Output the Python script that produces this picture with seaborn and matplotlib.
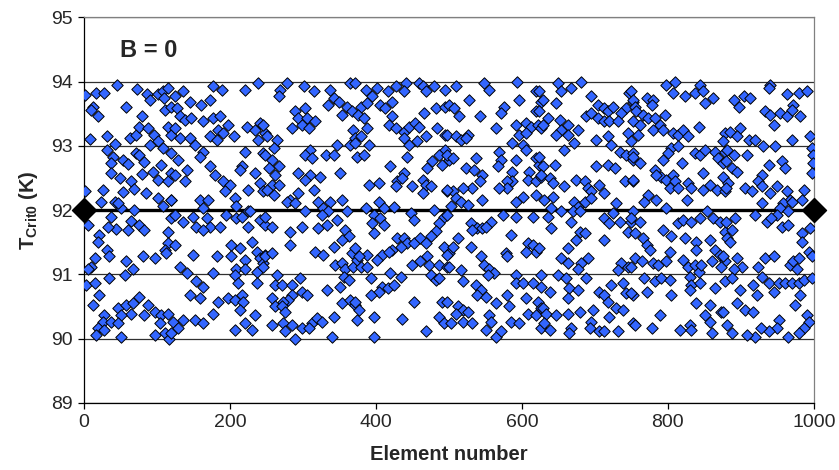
import numpy as np
import pandas as pd
import matplotlib
matplotlib.use("Agg")
import matplotlib.pyplot as plt
import seaborn as sns

# (element number, T_crit0), in strips along x
seg_0_125 = [
    (1, 93.79), (17, 93.82), (28, 93.82), (46, 93.94), (73, 93.88), (87, 93.80), (90, 93.72),
    (101, 93.80), (108, 93.85), (115, 93.90), (110, 93.75), (12, 93.61), (19, 93.47), (10, 93.56),
    (58, 93.60), (79, 93.46), (111, 93.56), (120, 93.61), (9, 93.11), (32, 93.15), (42, 93.03),
    (63, 93.13), (72, 93.17), (75, 93.30), (88, 93.28), (96, 93.17), (90, 93.02), (101, 93.07),
    (108, 92.97), (115, 93.30), (120, 93.17), (31, 92.94), (40, 92.83), (37, 92.73), (53, 92.78),
    (60, 92.71), (72, 92.89), (76, 92.86), (83, 92.75), (106, 92.70), (120, 92.89), (37, 92.57),
    (49, 92.50), (64, 92.45), (79, 92.56), (95, 92.60), (101, 92.47), (115, 92.45), (120, 92.57),
    (1, 92.29), (26, 92.31), (53, 92.28), (69, 92.33), (85, 92.26), (101, 92.19), (120, 92.16),
    (108, 92.06), (24, 92.13), (42, 92.13), (51, 92.03), (69, 92.00), (47, 92.11), (6, 91.77),
    (37, 91.90), (65, 91.83), (76, 91.77), (83, 91.69), (60, 91.69), (44, 91.71), (33, 91.74),
    (115, 91.66), (120, 91.87), (21, 91.61), (19, 91.51), (115, 91.48), (111, 91.38), (31, 91.38),
    (35, 91.28), (15, 91.25), (10, 91.12), (6, 91.09), (58, 91.20), (67, 91.09), (56, 90.99),
    (81, 91.28), (97, 91.25), (113, 91.33), (3, 90.83), (15, 90.86), (35, 90.94), (21, 90.68),
    (12, 90.52), (47, 90.47), (58, 90.52), (67, 90.55), (76, 90.64), (88, 90.52), (97, 90.42),
    (106, 90.37), (115, 90.39), (65, 90.39), (51, 90.37), (83, 90.37), (28, 90.37), (26, 90.26),
    (37, 90.26), (47, 90.24), (104, 90.24), (19, 90.16), (17, 90.06), (28, 90.13), (51, 90.03),
    (97, 90.06), (111, 90.08), (117, 90.00),
]
seg_125_250 = [
    (125, 93.77), (136, 93.85), (145, 93.69), (127, 93.59), (161, 93.64), (173, 93.72), (177, 93.93),
    (189, 93.87), (221, 93.87), (239, 93.98), (132, 93.46), (138, 93.41), (147, 93.43), (163, 93.38),
    (177, 93.43), (186, 93.46), (198, 93.33), (184, 93.25), (191, 93.20), (205, 93.15), (173, 93.15),
    (182, 93.09), (223, 93.30), (234, 93.25), (241, 93.35), (248, 93.20), (239, 93.09), (125, 93.28),
    (132, 93.12), (145, 93.12), (152, 93.02), (163, 92.91), (159, 92.83), (221, 92.91), (246, 92.89),
    (129, 92.78), (141, 92.63), (125, 92.55), (138, 92.45), (173, 92.68), (179, 92.55), (191, 92.45),
    (200, 92.39), (193, 92.29), (216, 92.68), (214, 92.63), (234, 92.58), (225, 92.31), (241, 92.42),
    (246, 92.29), (120, 92.16), (159, 92.16), (170, 92.16), (163, 92.03), (207, 92.19), (209, 92.06),
    (225, 91.98), (125, 91.93), (136, 91.82), (150, 91.90), (154, 91.74), (168, 91.87), (173, 91.74),
    (163, 91.69), (186, 91.74), (195, 91.93), (209, 91.87), (216, 91.90), (227, 91.98), (225, 91.74),
    (241, 91.85), (248, 91.77), (125, 91.46), (150, 91.30), (182, 91.28), (202, 91.46), (202, 91.28),
    (214, 91.41), (221, 91.22), (230, 91.51), (237, 91.35), (241, 91.25), (248, 91.30), (132, 91.12),
    (141, 91.02), (177, 91.02), (209, 91.09), (221, 91.09), (237, 91.04), (246, 91.17), (154, 90.89),
    (163, 90.81), (207, 90.99), (211, 90.86), (237, 90.86), (145, 90.68), (159, 90.63), (184, 90.57),
    (198, 90.63), (207, 90.60), (216, 90.68), (218, 90.57), (214, 90.45), (177, 90.39), (234, 90.37),
    (122, 90.26), (136, 90.29), (152, 90.29), (163, 90.24), (129, 90.16), (207, 90.13), (221, 90.24),
    (230, 90.13), (120, 90.08),
]
seg_250_375 = [
    (278, 93.98), (269, 93.87), (267, 93.77), (301, 93.93), (315, 93.85), (337, 93.87), (342, 93.74),
    (365, 93.98), (335, 93.64), (349, 93.69), (360, 93.61), (353, 93.48), (367, 93.54), (289, 93.54),
    (303, 93.59), (294, 93.43), (305, 93.43), (317, 93.38), (299, 93.33), (308, 93.28), (285, 93.28),
    (246, 93.33), (251, 93.15), (264, 93.09), (260, 92.96), (369, 93.25), (372, 93.12), (310, 92.94),
    (303, 92.86), (312, 92.81), (331, 92.86), (342, 92.86), (347, 93.02), (365, 93.02), (374, 92.83),
    (248, 92.86), (258, 92.78), (253, 92.65), (267, 92.68), (262, 92.55), (258, 92.39), (267, 92.39),
    (251, 92.31), (260, 92.24), (294, 92.57), (310, 92.55), (324, 92.52), (303, 92.47), (351, 92.57),
    (294, 92.26), (315, 92.31), (283, 92.16), (278, 92.13), (289, 92.11), (303, 91.98), (321, 92.13),
    (328, 92.03), (337, 92.13), (353, 92.16), (360, 91.98), (335, 91.98), (326, 91.93), (248, 91.90),
    (258, 91.74), (283, 91.66), (299, 91.74), (321, 91.72), (333, 91.77), (347, 91.85), (358, 91.69),
    (363, 91.59), (353, 91.54), (283, 91.46), (317, 91.35), (328, 91.30), (342, 91.43), (367, 91.33),
    (248, 91.28), (258, 91.33), (246, 91.12), (344, 91.15), (353, 91.17), (358, 91.09), (369, 91.12),
    (374, 91.22), (264, 90.99), (262, 90.83), (271, 90.83), (285, 90.83), (296, 90.94), (299, 90.73),
    (285, 90.68), (280, 90.60), (273, 90.57), (258, 90.63), (262, 90.50), (305, 90.68), (333, 90.76),
    (356, 90.96), (363, 90.91), (351, 90.81), (353, 90.55), (365, 90.60), (372, 90.52), (271, 90.50),
    (276, 90.42), (258, 90.21), (273, 90.24), (276, 90.11), (285, 90.21), (299, 90.16), (289, 90.00),
    (312, 90.24), (319, 90.32), (326, 90.26), (342, 90.34), (308, 90.16), (340, 90.03), (374, 90.29),
]
seg_375_500 = [
    (386, 93.87), (402, 93.90), (395, 93.77), (416, 93.85), (427, 93.93), (441, 93.98), (438, 93.85),
    (459, 93.98), (464, 93.93), (468, 93.85), (480, 93.93), (495, 93.87), (372, 93.98), (379, 93.61),
    (388, 93.67), (406, 93.64), (413, 93.59), (422, 93.69), (375, 93.48), (384, 93.43), (422, 93.46),
    (418, 93.33), (427, 93.28), (438, 93.22), (445, 93.30), (454, 93.35), (459, 93.30), (466, 93.51),
    (482, 93.59), (495, 93.61), (484, 93.28), (495, 93.17), (388, 93.28), (379, 93.15), (372, 93.04),
    (390, 93.02), (384, 92.86), (438, 93.12), (445, 93.02), (457, 93.07), (468, 93.15), (443, 92.83),
    (495, 92.94), (486, 92.86), (477, 92.76), (491, 92.70), (470, 92.65), (500, 92.78), (420, 92.68),
    (438, 92.57), (429, 92.45), (427, 92.37), (436, 92.50), (390, 92.39), (404, 92.42), (450, 92.37),
    (464, 92.47), (468, 92.39), (475, 92.37), (464, 92.26), (498, 92.29), (386, 92.03), (404, 92.13),
    (411, 92.03), (425, 92.05), (397, 91.93), (406, 91.87), (395, 91.80), (411, 91.77), (397, 91.64),
    (448, 91.95), (452, 91.85), (480, 92.00), (493, 91.90), (486, 91.80), (482, 91.67), (475, 91.59),
    (429, 91.56), (438, 91.56), (443, 91.48), (434, 91.43), (452, 91.48), (461, 91.56), (468, 91.48),
    (422, 91.38), (409, 91.30), (418, 91.35), (402, 91.22), (388, 91.30), (377, 91.28), (372, 91.41),
    (379, 91.12), (388, 91.12), (493, 91.43), (500, 91.33), (450, 91.15), (470, 91.28), (461, 91.20),
    (473, 91.15), (486, 91.15), (498, 91.12), (420, 91.02), (434, 90.96), (393, 90.94), (409, 90.81),
    (416, 90.78), (425, 90.83), (404, 90.73), (393, 90.68), (475, 90.99), (482, 90.91), (486, 90.94),
    (372, 90.57), (377, 90.45), (452, 90.57), (491, 90.57), (397, 90.34), (436, 90.31), (486, 90.34),
    (493, 90.24), (397, 90.03), (468, 90.11),
]
seg_500_625 = [
    (510, 93.93), (548, 93.98), (555, 93.87), (594, 94.00), (619, 93.85), (528, 93.72), (500, 93.64),
    (507, 93.59), (514, 93.46), (542, 93.46), (576, 93.61), (571, 93.51), (596, 93.72), (619, 93.54),
    (626, 93.69), (564, 93.28), (498, 93.17), (510, 93.15), (516, 93.09), (526, 93.17), (523, 93.12),
    (592, 93.33), (606, 93.35), (612, 93.30), (596, 93.17), (606, 93.20), (622, 93.33), (587, 93.04),
    (601, 93.02), (606, 92.94), (498, 92.86), (505, 92.81), (537, 92.81), (569, 92.91), (571, 92.78),
    (592, 92.78), (619, 92.81), (624, 92.70), (610, 92.60), (608, 92.47), (587, 92.60), (587, 92.45),
    (619, 92.45), (626, 92.52), (523, 92.65), (535, 92.63), (546, 92.55), (542, 92.45), (532, 92.34),
    (519, 92.34), (505, 92.29), (498, 92.31), (567, 92.68), (580, 92.45), (580, 92.34), (569, 92.34),
    (601, 92.21), (592, 92.13), (619, 92.24), (510, 92.19), (516, 92.13), (526, 92.08), (503, 92.06),
    (498, 91.93), (546, 92.16), (574, 91.93), (592, 91.90), (615, 91.90), (530, 91.80), (539, 91.72),
    (532, 91.69), (546, 91.72), (558, 91.82), (551, 91.74), (585, 91.61), (512, 91.56), (505, 91.43),
    (530, 91.43), (498, 91.30), (500, 91.12), (608, 91.48), (615, 91.46), (619, 91.35), (606, 91.35),
    (578, 91.33), (580, 91.28), (544, 91.28), (548, 91.15), (555, 91.09), (562, 91.02), (553, 90.99),
    (516, 91.07), (519, 90.89), (592, 90.99), (592, 90.86), (601, 90.86), (615, 90.86), (626, 90.99),
    (537, 90.83), (544, 90.76), (539, 90.68), (551, 90.65), (580, 90.68), (564, 90.55), (583, 90.50),
    (606, 90.63), (622, 90.57), (498, 90.57), (512, 90.50), (519, 90.45), (510, 90.39), (526, 90.42),
    (555, 90.37), (558, 90.26), (608, 90.39), (626, 90.47), (619, 90.37), (519, 90.26), (532, 90.24),
    (585, 90.26), (596, 90.24), (551, 90.13), (564, 90.03), (571, 90.11), (503, 90.24), (626, 90.16),
]
seg_625_750 = [
    (649, 93.98), (681, 94.00), (668, 93.90), (654, 93.85), (647, 93.67), (624, 93.85), (629, 93.72),
    (695, 93.77), (704, 93.64), (713, 93.59), (718, 93.54), (725, 93.61), (743, 93.59), (747, 93.82),
    (752, 93.69), (736, 93.51), (624, 93.54), (626, 93.28), (636, 93.43), (629, 93.33), (652, 93.41),
    (663, 93.33), (654, 93.25), (663, 93.17), (677, 93.25), (688, 93.46), (695, 93.51), (704, 93.43),
    (713, 93.38), (720, 93.38), (732, 93.38), (752, 93.38), (745, 93.20), (647, 93.17), (658, 92.94),
    (672, 93.04), (702, 93.09), (718, 93.15), (722, 93.02), (734, 92.91), (743, 92.86), (752, 92.78),
    (752, 92.89), (624, 92.83), (629, 92.68), (645, 92.70), (626, 92.55), (638, 92.50), (642, 92.42),
    (658, 92.37), (674, 92.47), (686, 92.45), (690, 92.34), (702, 92.68), (706, 92.39), (695, 92.29),
    (713, 92.26), (718, 92.70), (727, 92.65), (741, 92.45), (752, 92.45), (631, 92.16), (642, 92.21),
    (640, 92.03), (654, 91.98), (672, 92.13), (677, 92.05), (686, 92.13), (670, 91.98), (679, 91.98),
    (695, 92.19), (729, 92.11), (725, 91.95), (713, 91.87), (720, 91.80), (734, 91.82), (750, 91.82),
    (752, 91.98), (745, 91.66), (636, 91.90), (640, 91.72), (668, 91.82), (679, 91.66), (686, 91.64),
    (674, 91.53), (663, 91.41), (713, 91.53), (624, 91.41), (654, 91.25), (663, 91.17), (690, 91.25),
    (681, 91.17), (677, 91.09), (688, 90.94), (649, 90.99), (661, 90.94), (736, 91.17), (745, 91.12),
    (732, 91.07), (626, 90.81), (638, 90.73), (665, 90.78), (663, 90.63), (677, 90.76), (706, 90.73),
    (713, 90.68), (718, 90.57), (722, 90.83), (738, 90.86), (743, 90.71), (752, 90.68), (629, 90.47),
    (633, 90.39), (647, 90.37), (663, 90.39), (679, 90.42), (697, 90.45), (729, 90.47), (720, 90.34),
    (738, 90.45), (631, 90.24), (638, 90.13), (668, 90.16), (665, 90.08), (695, 90.26), (693, 90.16),
    (706, 90.11), (713, 90.11), (732, 90.11), (752, 90.24),
]
seg_750_875 = [
    (798, 93.95), (810, 94.00), (807, 93.82), (823, 93.77), (837, 93.82), (844, 93.95), (848, 93.85),
    (851, 93.67), (862, 93.74), (750, 93.85), (752, 93.72), (771, 93.74), (780, 93.72), (778, 93.64),
    (755, 93.61), (757, 93.54), (766, 93.48), (773, 93.43), (782, 93.43), (796, 93.48), (789, 93.33),
    (780, 93.25), (762, 93.33), (794, 93.25), (807, 93.20), (814, 93.17), (821, 93.25), (828, 93.15),
    (842, 93.30), (878, 93.20), (750, 93.07), (759, 93.17), (805, 92.96), (814, 92.99), (800, 92.89),
    (794, 92.78), (819, 92.73), (837, 92.89), (844, 92.86), (851, 92.94), (864, 92.91), (869, 92.81),
    (878, 92.91), (876, 92.73), (752, 92.83), (762, 92.73), (752, 92.47), (782, 92.63), (791, 92.52),
    (784, 92.55), (798, 92.47), (807, 92.55), (810, 92.45), (803, 92.34), (814, 92.34), (828, 92.42),
    (832, 92.34), (848, 92.57), (858, 92.39), (848, 92.31), (867, 92.31), (878, 92.29), (773, 92.24),
    (768, 92.13), (784, 92.16), (798, 92.03), (826, 92.16), (750, 91.87), (762, 91.82), (755, 91.64),
    (766, 91.56), (771, 91.46), (775, 91.38), (794, 91.69), (805, 91.59), (814, 91.80), (821, 91.85),
    (832, 91.82), (844, 91.87), (853, 91.98), (862, 91.87), (871, 91.82), (878, 91.66), (803, 91.35),
    (823, 91.56), (839, 91.51), (839, 91.38), (858, 91.54), (864, 91.38), (871, 91.30), (878, 91.20),
    (755, 91.25), (764, 91.20), (780, 91.17), (787, 91.15), (798, 91.20), (821, 91.22), (828, 91.12),
    (837, 91.15), (842, 91.04), (846, 91.15), (860, 91.20), (873, 91.12), (750, 91.12), (768, 90.94),
    (782, 90.89), (791, 90.94), (803, 90.91), (830, 90.96), (832, 90.83), (844, 90.86), (750, 90.71),
    (771, 90.73), (805, 90.68), (830, 90.76), (864, 90.78), (878, 90.89), (839, 90.55), (858, 90.52),
    (851, 90.37), (858, 90.26), (873, 90.42), (789, 90.37), (755, 90.21), (778, 90.16), (816, 90.13),
    (830, 90.21), (832, 90.13), (860, 90.08),
]
seg_875_1000 = [
    (940, 93.95), (938, 93.90), (963, 93.80), (979, 93.82), (990, 93.85), (890, 93.72), (904, 93.77),
    (913, 93.74), (897, 93.61), (933, 93.54), (940, 93.48), (954, 93.51), (963, 93.46), (972, 93.64),
    (970, 93.56), (981, 93.46), (945, 93.33), (885, 93.22), (899, 93.28), (895, 93.15), (876, 93.07),
    (911, 93.09), (920, 93.09), (931, 92.99), (947, 92.99), (970, 93.09), (995, 93.15), (997, 92.96),
    (999, 92.86), (999, 92.73), (997, 92.57), (881, 92.94), (890, 92.86), (879, 92.76), (888, 92.65),
    (895, 92.60), (908, 92.86), (938, 92.70), (956, 92.76), (961, 92.65), (876, 92.52), (929, 92.55),
    (924, 92.45), (883, 92.42), (879, 92.34), (906, 92.34), (915, 92.29), (929, 92.37), (940, 92.26),
    (949, 92.37), (963, 92.29), (968, 92.16), (986, 92.31), (984, 92.16), (929, 92.11), (958, 92.11),
    (954, 92.03), (965, 91.98), (970, 92.13), (949, 91.93), (920, 91.93), (936, 91.82), (942, 91.87),
    (956, 91.74), (965, 91.77), (892, 91.87), (879, 91.82), (888, 91.69), (881, 91.56), (885, 91.51),
    (995, 91.72), (984, 91.64), (984, 91.51), (876, 91.28), (895, 91.25), (901, 91.12), (890, 91.09),
    (924, 91.12), (933, 91.25), (945, 91.28), (968, 91.15), (972, 91.20), (979, 91.25), (977, 91.09),
    (993, 91.35), (997, 91.28), (929, 90.96), (888, 90.94), (899, 90.76), (917, 90.83), (922, 90.68),
    (938, 90.86), (945, 90.73), (952, 90.86), (961, 90.86), (970, 90.86), (979, 90.86), (986, 90.91),
    (981, 90.68), (997, 90.94), (895, 90.55), (906, 90.45), (917, 90.42), (876, 90.42), (974, 90.52),
    (990, 90.37), (993, 90.26), (952, 90.29), (949, 90.16), (938, 90.11), (927, 90.16), (920, 90.03),
    (908, 90.06), (888, 90.08), (881, 90.21), (965, 90.03), (986, 90.16), (979, 90.08),
]

mean_x = [0, 1000]
mean_t = [92, 92]

x_ticks = [0, 200, 400, 600, 800, 1000]
y_ticks = [89, 90, 91, 92, 93, 94, 95]

points = (seg_0_125 + seg_125_250 + seg_250_375 + seg_375_500 +
          seg_500_625 + seg_625_750 + seg_750_875 + seg_875_1000)
df = pd.DataFrame(points, columns=["element", "tcrit"])
mean_df = pd.DataFrame({"element": mean_x, "tcrit": mean_t})

sns.set_style("white")
plt.rcParams["font.family"] = ["Liberation Sans", "DejaVu Sans"]
plt.rcParams["mathtext.fontset"] = "custom"
plt.rcParams["mathtext.rm"] = "Liberation Sans"
plt.rcParams["mathtext.bf"] = "Liberation Sans:bold"

fig, ax = plt.subplots(figsize=(8.39, 4.70), dpi=100)
fig.subplots_adjust(left=0.100, right=0.970, top=0.963, bottom=0.143)

for yv in y_ticks:
    ax.axhline(yv, color="#303030", lw=0.9, zorder=0)

sns.lineplot(data=mean_df, x="element", y="tcrit", ax=ax, color="black",
             lw=2.4, zorder=2)
sns.scatterplot(data=df, x="element", y="tcrit", ax=ax, marker="D", s=34,
                color="#3366FF", edgecolor="black", linewidth=0.7, zorder=3)
# big end markers of the mean line, drawn unclipped so they overhang the frame
sns.scatterplot(data=mean_df, x="element", y="tcrit", ax=ax, marker="D", s=150,
                color="black", edgecolor="black", zorder=4, clip_on=False)

ax.set_xlim(0, 1000)
ax.set_ylim(89, 95)
ax.set_xticks(x_ticks)
ax.set_yticks(y_ticks)
ax.tick_params(axis="both", direction="out", length=4, width=0.9,
               labelsize=14, color="black", pad=4)
ax.tick_params(axis="x", bottom=True)
ax.tick_params(axis="y", left=True)

for side in ["left", "bottom"]:
    ax.spines[side].set_color("black")
    ax.spines[side].set_linewidth(0.9)
for side in ["top", "right"]:
    ax.spines[side].set_color("#808080")
    ax.spines[side].set_linewidth(0.9)

ax.set_xlabel("Element number", fontsize=14.5, fontweight="bold", labelpad=10)
ax.set_ylabel(r"T$_{\mathbf{Crit0}}$ (K)", fontsize=14.5, fontweight="bold", labelpad=8)
ax.text(0.05, 0.915, "B = 0", transform=ax.transAxes, fontsize=17,
        fontweight="bold", va="center", ha="left")

fig.savefig("out.png", dpi=100)
